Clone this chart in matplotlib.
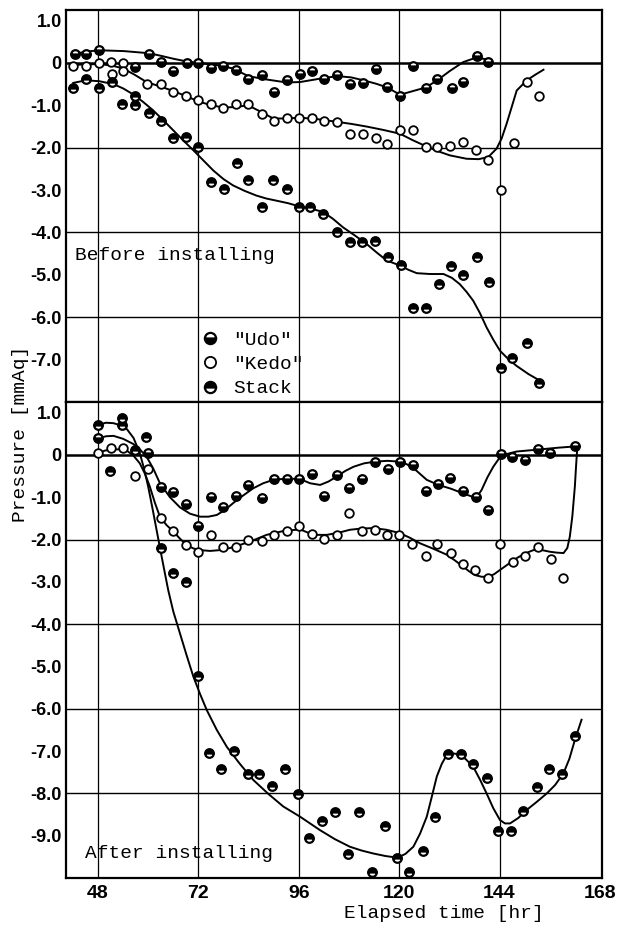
import matplotlib
matplotlib.use('Agg')
import matplotlib.pyplot as plt

# ---- before installing (pressure in the units of the tick labels) ----
b_udo_t = [42.5, 45.1, 48.2, 56.8, 60.2, 63.1, 66.0, 69.2, 72.0, 75.0, 77.9, 81.0, 83.9, 87.1, 90.1, 93.3,
           96.3, 99.1, 102.0, 105.2, 108.2, 111.3, 114.5, 117.2, 120.2, 123.4, 126.3, 129.1, 132.7, 135.3,
           138.5, 141.3]
b_udo_p = [0.22, 0.22, 0.30, -0.09, 0.22, 0.02, -0.19, 0.00, 0.00, -0.12, -0.07, -0.17, -0.39, -0.29, -0.69,
           -0.41, -0.27, -0.18, -0.37, -0.29, -0.49, -0.47, -0.15, -0.57, -0.79, -0.08, -0.58, -0.37, -0.58,
           -0.46, 0.16, 0.02]
b_kedo_t = [42.1, 45.1, 48.2, 51.1, 53.9, 51.3, 53.9, 59.6, 63.1, 66.0, 69.0, 72.0, 74.9, 77.9, 81.0, 83.9,
            87.1, 90.1, 93.1, 96.1, 99.1, 102.0, 105.2, 108.2, 111.3, 114.5, 117.2, 120.2, 123.4, 126.3,
            129.1, 132.1, 135.3, 138.4, 141.3, 144.3, 147.4, 150.5, 153.4]
b_kedo_p = [-0.08, -0.08, 0.01, 0.03, 0.01, -0.27, -0.20, -0.49, -0.49, -0.69, -0.78, -0.88, -0.98, -1.06,
            -0.98, -0.98, -1.20, -1.37, -1.29, -1.29, -1.29, -1.37, -1.39, -1.67, -1.67, -1.76, -1.91, -1.58,
            -1.59, -1.99, -1.99, -1.96, -1.87, -2.06, -2.28, -2.99, -1.88, -0.45, -0.79]
b_stack_t = [42.1, 45.1, 48.2, 51.3, 53.8, 56.8, 56.8, 60.2, 63.1, 66.0, 69.0, 72.0, 74.9, 78.1, 81.2, 83.9,
             87.1, 89.9, 93.1, 96.1, 98.8, 101.9, 105.1, 108.2, 111.2, 114.2, 117.3, 120.4, 123.4, 126.4,
             129.5, 132.3, 135.3, 138.5, 141.5, 144.3, 147.0, 150.6, 153.4]
b_stack_p = [-0.59, -0.39, -0.58, -0.45, -0.98, -1.00, -0.78, -1.18, -1.37, -1.76, -1.75, -1.99, -2.81, -2.97,
             -2.36, -2.77, -3.39, -2.77, -2.97, -3.39, -3.39, -3.56, -4.00, -4.22, -4.22, -4.19, -4.59, -4.77,
             -5.79, -5.79, -5.22, -4.80, -5.00, -4.59, -5.18, -7.19, -6.97, -6.60, -7.56]

# hand-drawn fitted curves
b_udo_ct = [42.5, 45.5, 48.2, 54.2, 60.2, 63.0, 66.0, 69.0, 72.0, 76.4, 80.3, 83.9, 88.3, 93.1, 96.3, 101.1,
            105.2, 108.5, 111.5, 114.5, 117.2, 120.2, 123.4, 126.3, 129.1, 132.1, 135.3, 138.5, 142.1]
b_udo_cp = [0.22, 0.27, 0.30, 0.28, 0.23, 0.17, 0.10, 0.04, 0.00, -0.05, -0.13, -0.31, -0.39, -0.46, -0.45,
            -0.37, -0.31, -0.34, -0.41, -0.49, -0.58, -0.75, -0.66, -0.58, -0.41, -0.19, 0.02, 0.13, 0.06]
b_kedo_ct = [42.1, 45.3, 48.5, 51.3, 54.0, 56.8, 59.6, 63.0, 66.0, 69.2, 72.4, 75.2, 77.9, 80.9, 83.9, 86.9,
             89.9, 93.1, 96.3, 100.8, 105.2, 108.7, 112.2, 116.2, 120.2, 123.2, 126.3, 129.2, 132.1, 136.1,
             139.0, 141.3, 143.3, 144.5, 145.7, 146.9, 148.1, 150.5, 152.5, 154.5]
b_kedo_cp = [-0.05, -0.03, -0.03, -0.06, -0.13, -0.28, -0.45, -0.56, -0.66, -0.79, -0.92, -1.00, -1.05, -1.04,
             -1.00, -1.15, -1.31, -1.31, -1.29, -1.33, -1.39, -1.44, -1.50, -1.58, -1.67, -1.82, -1.96, -2.08,
             -2.18, -2.26, -2.27, -2.22, -2.02, -1.78, -1.43, -1.04, -0.65, -0.41, -0.28, -0.16]
b_stack_ct = [42.1, 45.1, 48.3, 51.7, 54.0, 56.4, 58.8, 61.2, 63.6, 66.0, 68.4, 70.8, 73.2, 75.6, 78.0, 80.3,
              83.1, 85.9, 88.3, 90.7, 93.5, 96.3, 99.1, 101.9, 104.2, 106.6, 109.4, 112.2, 114.6, 117.0, 120.2,
              122.2, 124.2, 127.4, 130.6, 132.6, 134.5, 136.1, 137.7, 139.3, 140.9, 142.5, 144.1, 146.1,
              148.1, 150.9, 153.7]
b_stack_cp = [-0.47, -0.41, -0.43, -0.50, -0.60, -0.74, -0.92, -1.12, -1.35, -1.59, -1.83, -2.06, -2.30, -2.54,
              -2.74, -2.89, -3.02, -3.13, -3.20, -3.25, -3.31, -3.39, -3.44, -3.52, -3.68, -3.88, -4.07, -4.27,
              -4.47, -4.66, -4.78, -4.88, -4.96, -4.98, -4.98, -5.07, -5.22, -5.40, -5.61, -5.90, -6.24, -6.53,
              -6.79, -6.99, -7.15, -7.34, -7.50]

# ---- after installing ----
a_udo_t = [48.1, 60.0, 63.0, 66.0, 69.0, 72.0, 75.0, 78.0, 80.9, 83.9, 87.1, 90.1, 93.1, 96.1, 99.1, 102.0,
           105.2, 108.1, 111.2, 114.2, 117.3, 120.2, 123.2, 126.3, 129.4, 132.2, 135.3, 138.4, 141.2, 144.3,
           147.0, 150.1, 153.1, 156.1, 162.0]
a_udo_p = [0.39, 0.04, -0.77, -0.87, -1.16, -1.68, -0.99, -1.24, -0.97, -0.71, -1.02, -0.57, -0.57, -0.57,
           -0.45, -0.97, -0.47, -0.79, -0.57, -0.16, -0.34, -0.16, -0.24, -0.85, -0.69, -0.55, -0.85, -1.00,
           -1.30, 0.02, -0.05, -0.12, 0.13, 0.05, 0.21]
a_kedo_t = [48.1, 51.1, 54.0, 56.8, 60.0, 63.0, 66.0, 69.0, 72.0, 75.0, 78.0, 80.9, 83.9, 87.1, 90.1, 93.1,
            96.1, 99.1, 102.0, 105.2, 108.1, 111.2, 114.2, 117.0, 120.0, 123.0, 126.3, 129.1, 132.3, 135.3,
            138.1, 141.2, 144.0, 147.3, 150.2, 153.1, 156.2, 159.2]
a_kedo_p = [0.04, 0.17, 0.16, -0.51, -0.34, -1.50, -1.80, -2.13, -2.29, -1.89, -2.18, -2.18, -2.01, -2.03,
            -1.89, -1.79, -1.69, -1.87, -1.99, -1.89, -1.38, -1.80, -1.77, -1.89, -1.89, -2.11, -2.40, -2.11,
            -2.31, -2.58, -2.72, -2.92, -2.11, -2.52, -2.40, -2.18, -2.46, -2.92]
a_stack_t = [48.1, 50.9, 53.8, 53.8, 56.8, 59.5, 63.0, 66.0, 69.0, 71.8, 74.6, 77.3, 80.6, 83.8, 86.6, 89.5,
             92.7, 95.9, 98.5, 101.5, 104.7, 107.8, 110.5, 113.4, 116.6, 119.6, 122.4, 125.6, 128.6, 131.7,
             134.7, 137.6, 141.1, 143.6, 146.7, 149.7, 152.9, 155.9, 159.0, 162.0]
a_stack_p = [0.71, -0.39, 0.88, 0.70, 0.12, 0.42, -2.19, -2.80, -3.00, -5.22, -7.04, -7.43, -7.01, -7.53,
             -7.54, -7.83, -7.43, -8.02, -9.05, -8.65, -8.45, -9.43, -8.45, -9.85, -8.76, -9.52, -9.85, -9.35,
             -8.55, -7.08, -7.08, -7.31, -7.64, -8.90, -8.90, -8.41, -7.84, -7.42, -7.54, -6.64]

a_udo_ct = [48.1, 49.9, 51.7, 54.0, 56.4, 58.0, 59.6, 61.2, 62.8, 65.2, 67.6, 70.0, 72.4, 74.4, 76.4, 78.4,
            80.3, 82.7, 85.1, 87.5, 89.9, 93.1, 96.3, 98.7, 101.1, 103.1, 105.1, 107.1, 109.1, 111.6, 114.2,
            117.2, 120.2, 121.8, 123.4, 125.0, 126.6, 129.4, 132.4, 135.3, 138.4, 139.7, 141.1, 142.5, 143.7,
            144.9, 148.1, 153.7, 158.0, 162.0]
a_udo_cp = [0.39, 0.44, 0.45, 0.38, 0.26, 0.13, -0.04, -0.32, -0.67, -1.00, -1.24, -1.39, -1.46, -1.46, -1.42,
            -1.30, -1.14, -0.96, -0.79, -0.67, -0.59, -0.56, -0.57, -0.67, -0.71, -0.63, -0.51, -0.38, -0.28,
            -0.20, -0.16, -0.14, -0.16, -0.22, -0.31, -0.45, -0.59, -0.71, -0.80, -0.91, -1.02, -0.83, -0.53,
            -0.28, -0.11, 0.00, 0.08, 0.13, 0.17, 0.20]
a_kedo_ct = [48.1, 49.6, 51.2, 53.0, 54.9, 56.5, 58.0, 59.2, 60.4, 61.6, 62.8, 64.4, 66.0, 67.6, 69.2, 70.8,
             72.4, 74.8, 77.2, 79.6, 81.9, 85.1, 88.3, 92.3, 96.3, 99.5, 102.7, 105.5, 108.2, 111.0, 113.8,
             117.0, 120.2, 122.6, 125.0, 128.2, 131.4, 133.4, 135.3, 136.7, 138.1, 139.7, 141.3, 142.7,
             144.1, 146.1, 148.1, 150.1, 152.1, 154.1, 156.1, 157.7, 159.3, 160.2, 160.8, 161.4, 162.0,
             162.3, 162.6]
a_kedo_cp = [0.04, 0.10, 0.13, 0.13, 0.10, -0.02, -0.20, -0.44, -0.75, -1.13, -1.46, -1.66, -1.81, -1.98,
             -2.13, -2.21, -2.25, -2.27, -2.25, -2.20, -2.13, -2.02, -1.89, -1.80, -1.76, -1.89, -1.89, -1.84,
             -1.77, -1.74, -1.73, -1.77, -1.85, -1.96, -2.09, -2.22, -2.36, -2.50, -2.64, -2.75, -2.84, -2.88,
             -2.88, -2.82, -2.72, -2.58, -2.44, -2.33, -2.25, -2.25, -2.29, -2.31, -2.32, -2.20, -1.93, -1.45,
             -0.75, -0.25, 0.20]
a_stack_ct = [48.1, 49.9, 51.7, 53.3, 54.9, 56.5, 58.0, 59.0, 60.0, 61.0, 62.0, 63.0, 64.0, 64.8, 66.0, 67.6,
              69.2, 70.8, 72.4, 74.0, 76.4, 78.8, 81.9, 85.1, 88.7, 92.3, 96.3, 101.1, 104.6, 108.2, 111.0,
              113.8, 116.7, 119.6, 121.5, 123.4, 125.0, 126.6, 127.8, 129.0, 130.2, 131.4, 132.6, 133.8,
              135.8, 137.7, 139.3, 140.9, 142.5, 144.1, 145.3, 146.5, 148.5, 150.5, 152.9, 155.3, 157.3,
              159.3, 160.7, 162.0, 163.6]
a_stack_cp = [0.71, 0.76, 0.75, 0.70, 0.61, 0.40, 0.04, -0.32, -0.75, -1.25, -1.77, -2.29, -2.80, -3.20, -3.70,
              -4.22, -4.74, -5.24, -5.65, -6.03, -6.50, -6.90, -7.30, -7.68, -8.01, -8.31, -8.55, -8.87, -9.08,
              -9.26, -9.35, -9.42, -9.48, -9.52, -9.43, -9.26, -8.95, -8.55, -8.08, -7.60, -7.30, -7.09, -7.05,
              -7.07, -7.18, -7.37, -7.67, -8.00, -8.35, -8.63, -8.71, -8.71, -8.58, -8.39, -8.20, -8.00, -7.80,
              -7.52, -7.18, -6.74, -6.26]

xticks = [48, 72, 96, 120, 144, 168]
mono = 'Liberation Mono'
narrow = ['Liberation Sans Narrow', 'Liberation Sans', 'DejaVu Sans']

udo_st = dict(ls='none', marker='o', ms=6.2, mew=1.6, mec='black', mfc='black', mfcalt='white',
              fillstyle='bottom')
kedo_st = dict(ls='none', marker='o', ms=6.2, mew=1.3, mec='black', mfc='white')
stack_st = dict(ls='none', marker='o', ms=6.2, mew=1.6, mec='black', mfc='black', mfcalt='white',
                fillstyle='top')

fig = plt.figure(figsize=(6.19, 9.25), dpi=100)
ax1 = fig.add_axes([0.1066, 0.5654, 0.866, 0.4238])
ax2 = fig.add_axes([0.1066, 0.0508, 0.866, 0.5146])


def panel(ax, ylo, ticks, udo, kedo, stack, curves):
    ax.set_xlim(40.35, 168.5)
    ax.set_ylim(ylo, 1.25)
    for g in range(0, int(ylo) - 1, -2):
        ax.axhline(g, color='black', lw=1.8 if g == 0 else 1.0, zorder=1)
    for g in xticks[:-1]:
        ax.axvline(g, color='black', lw=0.9, zorder=1)
    for ct, cp in curves:
        ax.plot(ct, cp, color='black', lw=1.4, zorder=2)
    h1, = ax.plot(udo[0], udo[1], zorder=3, **udo_st)
    h2, = ax.plot(kedo[0], kedo[1], zorder=3, **kedo_st)
    h3, = ax.plot(stack[0], stack[1], zorder=3, **stack_st)
    ax.set_yticks(ticks)
    ax.set_yticklabels(['0' if t == 0 else '%.1f' % t for t in ticks],
                       family=narrow, fontweight='bold', fontstretch='condensed', fontsize=13)
    ax.set_xticks(xticks)
    ax.tick_params(length=0, pad=3)
    for s in ax.spines.values():
        s.set_linewidth(1.6)
    return h1, h2, h3


hs = panel(ax1, -8.0, [1, 0, -1, -2, -3, -4, -5, -6, -7],
           (b_udo_t, b_udo_p), (b_kedo_t, b_kedo_p), (b_stack_t, b_stack_p),
           [(b_udo_ct, b_udo_cp), (b_kedo_ct, b_kedo_cp), (b_stack_ct, b_stack_cp)])
ax1.set_xticklabels([])
panel(ax2, -10.0, [1, 0, -1, -2, -3, -4, -5, -6, -7, -8, -9],
      (a_udo_t, a_udo_p), (a_kedo_t, a_kedo_p), (a_stack_t, a_stack_p),
      [(a_udo_ct, a_udo_cp), (a_kedo_ct, a_kedo_cp), (a_stack_ct, a_stack_cp)])
ax2.set_xticklabels([str(t) for t in xticks], family=narrow, fontweight='bold',
                    fontstretch='condensed', fontsize=14)
ax2.tick_params(axis='x', pad=5)

ax1.text(42.5, -4.55, 'Before installing', family=mono, fontsize=14, va='center')
ax2.text(44.9, -9.41, 'After installing', family=mono, fontsize=14, va='center')

leg = ax1.legend(hs, ['"Udo"', '"Kedo"', 'Stack'], loc='lower left', bbox_to_anchor=(0.228, -0.018),
                 frameon=False, prop={'family': mono, 'size': 14}, markerscale=1.3,
                 handlelength=1.0, handletextpad=0.7, labelspacing=0.35, borderaxespad=0.2)

fig.text(21 / 619, 1 - 434 / 925, 'Pressure [mmAq]', family=mono, fontsize=14, rotation=90,
         ha='center', va='center')
fig.text(444 / 619, 1 - 913 / 925, 'Elapsed time [hr]', family=mono, fontsize=14,
         ha='center', va='center')

fig.savefig('out.png', dpi=100)
